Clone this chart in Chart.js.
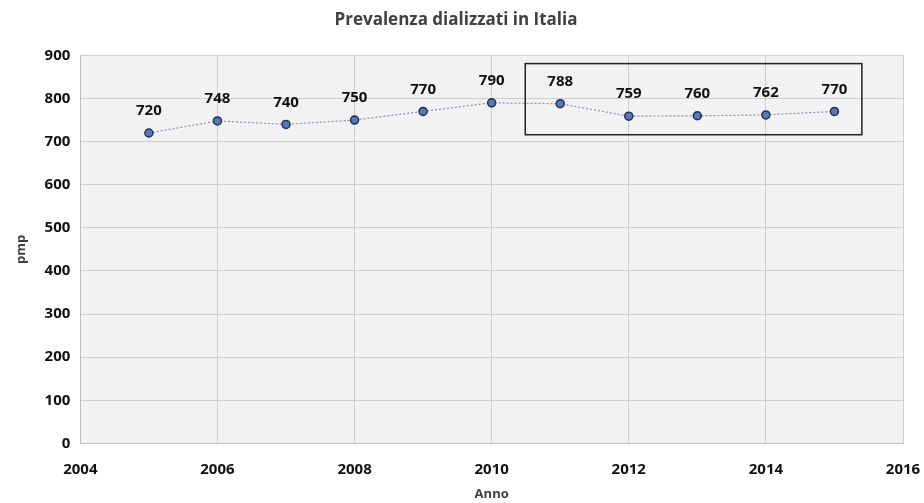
<!DOCTYPE html>
<html>
<head>
<meta charset="utf-8">
<script src="https://cdn.jsdelivr.net/npm/chart.js@4"></script>
<style>
  body { margin: 0; background: #ffffff; }
  #wrap { width: 924px; height: 503px; }
</style>
</head>
<body>
<div id="wrap"><canvas id="myChart"></canvas></div>
<script>
// dati
const anni = [2005, 2006, 2007, 2008, 2009, 2010, 2011, 2012, 2013, 2014, 2015];
const prevalenza = [720, 748, 740, 750, 770, 790, 788, 759, 760, 762, 770];
// riquadro evidenziato (coordinate dati)
const boxX = [2010.49, 2015.4];
const boxY = [716, 881];

const font = "'Open Sans', 'DejaVu Sans', sans-serif";
const grigio = '#404040';

// sfondo grigio dell'area del grafico
const sfondo = {
  id: 'sfondo',
  beforeDraw(chart) {
    const { ctx, chartArea: a } = chart;
    ctx.save();
    ctx.fillStyle = '#f2f2f2';
    ctx.fillRect(a.left, a.top, a.right - a.left, a.bottom - a.top);
    ctx.restore();
  }
};

// etichette dei valori sopra i punti + riquadro
const etichette = {
  id: 'etichette',
  afterDatasetsDraw(chart) {
    const { ctx } = chart;
    const x = chart.scales.x, y = chart.scales.y;
    ctx.save();
    ctx.font = 'bold 15px ' + font;
    ctx.fillStyle = '#111111';
    ctx.textAlign = 'center';
    ctx.textBaseline = 'middle';
    chart.getDatasetMeta(0).data.forEach((p, i) => {
      ctx.fillText(prevalenza[i], p.x, p.y - 22);
    });
    ctx.strokeStyle = '#222222';
    ctx.lineWidth = 1.5;
    const x0 = x.getPixelForValue(boxX[0]), x1 = x.getPixelForValue(boxX[1]);
    const y0 = y.getPixelForValue(boxY[1]), y1 = y.getPixelForValue(boxY[0]);
    ctx.strokeRect(x0, y0, x1 - x0, y1 - y0);
    ctx.restore();
  }
};

const ctx = document.getElementById('myChart').getContext('2d');
const myChart = new Chart(ctx, {
  type: 'line',
  data: {
    datasets: [{
      label: 'Prevalenza',
      data: anni.map((a, i) => ({ x: a, y: prevalenza[i] })),
      borderColor: '#8a93a8',
      borderWidth: 1.2,
      borderDash: [2, 2],
      pointRadius: 4,
      pointBackgroundColor: '#5a78b8',
      pointBorderColor: '#1f2f5a',
      pointBorderWidth: 1.5,
      fill: false
    }]
  },
  plugins: [sfondo, etichette],
  options: {
    responsive: true,
    maintainAspectRatio: false,
    animation: false,
    layout: { padding: { left: 9, right: 21, top: 4, bottom: 1 } },
    plugins: {
      legend: { display: false },
      tooltip: { enabled: false },
      title: {
        display: true,
        text: 'Prevalenza dializzati in Italia',
        color: grigio,
        font: { family: font, size: 17, weight: 'bold' },
        padding: { top: 6, bottom: 25 }
      }
    },
    scales: {
      x: {
        type: 'linear',
        min: 2004,
        max: 2016,
        afterFit: s => { s.paddingRight = 0; },
        ticks: {
          stepSize: 2,
          color: '#111111',
          font: { family: font, size: 15, weight: 'bold' },
          callback: v => String(v),
          padding: 17
        },
        grid: { color: '#cfcfcf', drawTicks: false },
        border: { color: '#bfbfbf' },
        title: {
          display: true,
          text: 'Anno',
          color: grigio,
          font: { family: font, size: 13, weight: 'bold' },
          padding: { top: -9, bottom: 0 }
        }
      },
      y: {
        min: 0,
        max: 900,
        ticks: {
          stepSize: 100,
          color: '#111111',
          font: { family: font, size: 15, weight: 'bold' },
          padding: 10
        },
        grid: { color: '#cfcfcf', drawTicks: false },
        border: { color: '#bfbfbf' },
        title: {
          display: true,
          text: 'pmp',
          color: grigio,
          font: { family: font, size: 13, weight: 'bold' },
          padding: { bottom: 6 }
        }
      }
    }
  }
});
</script>
</body>
</html>
